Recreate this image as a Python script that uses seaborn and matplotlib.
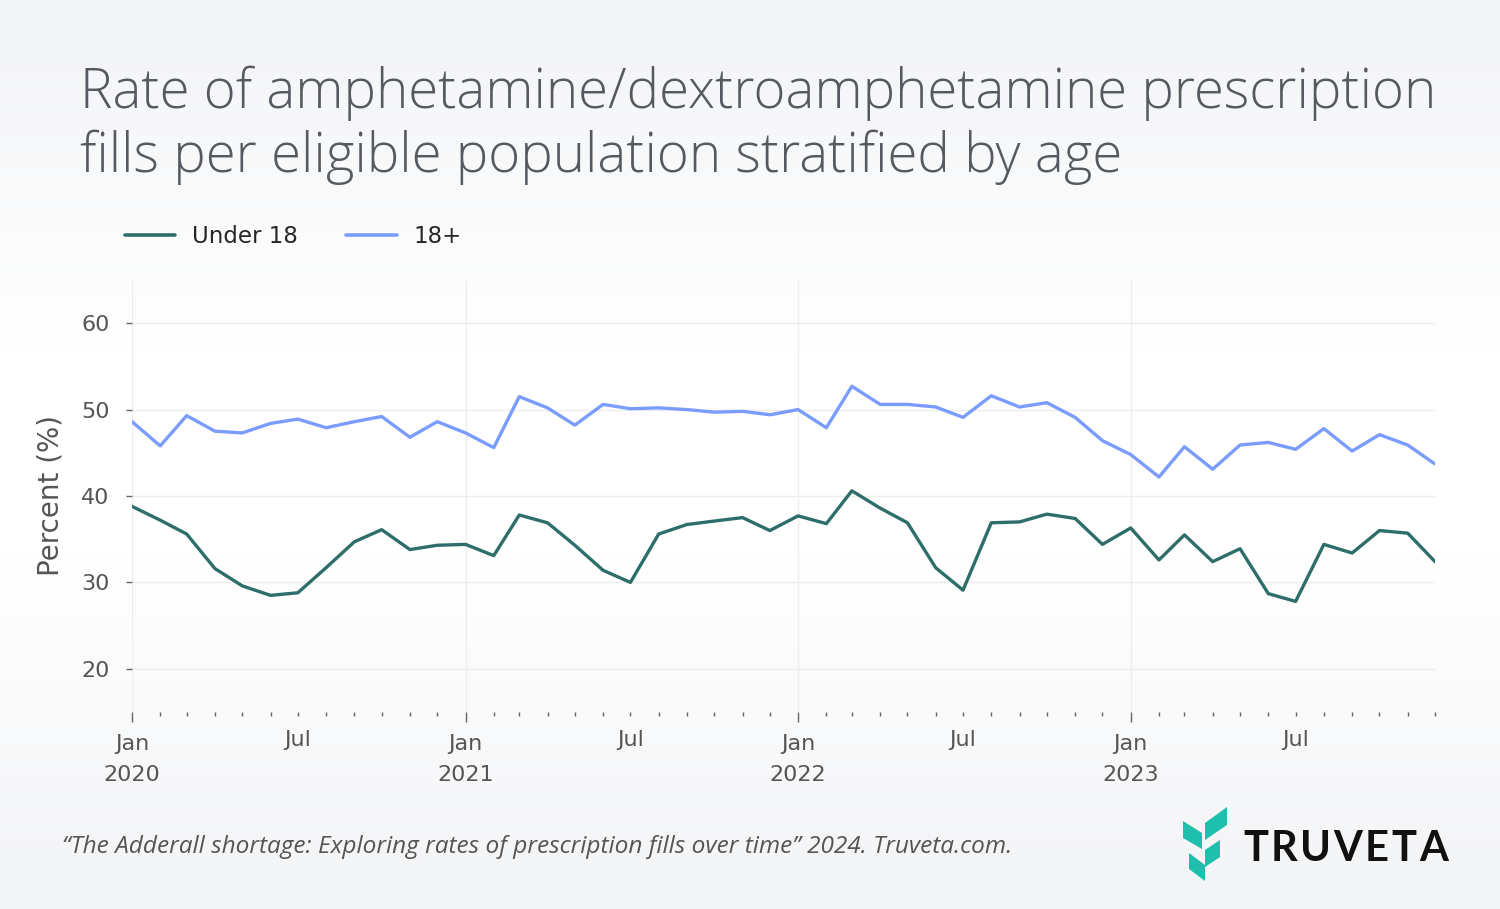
import numpy as np
import pandas as pd
import matplotlib
matplotlib.use("Agg")
import matplotlib.pyplot as plt
import matplotlib.dates as mdates
from matplotlib.patches import Polygon
from matplotlib.lines import Line2D
import seaborn as sns

# ---- data ----
months = pd.date_range("2020-01-01", "2023-12-01", freq="MS")
under18 = [38.8, 37.2, 35.6, 31.6, 29.6, 28.5, 28.8, 31.7, 34.7, 36.1, 33.8, 34.3,
           34.4, 33.1, 37.8, 36.9, 34.3, 31.4, 30.0, 35.6, 36.7, 37.1, 37.5, 36.0,
           37.7, 36.8, 40.6, 38.6, 36.9, 31.7, 29.1, 36.9, 37.0, 37.9, 37.4, 34.4,
           36.3, 32.6, 35.5, 32.4, 33.9, 28.7, 27.8, 34.4, 33.4, 36.0, 35.7, 32.4]
adult = [48.6, 45.8, 49.3, 47.5, 47.3, 48.4, 48.9, 47.9, 48.6, 49.2, 46.8, 48.6,
         47.3, 45.6, 51.5, 50.2, 48.2, 50.6, 50.1, 50.2, 50.0, 49.7, 49.8, 49.4,
         50.0, 47.9, 52.7, 50.6, 50.6, 50.3, 49.1, 51.6, 50.3, 50.8, 49.1, 46.4,
         44.8, 42.2, 45.7, 43.1, 45.9, 46.2, 45.4, 47.8, 45.2, 47.1, 45.9, 43.7]
series_names = ["Under 18", "18+"]
colors = ["#2e6e6a", "#7b9cff"]
yticks = [20, 30, 40, 50, 60]

df = pd.DataFrame({
    "month": list(months) * 2,
    "value": under18 + adult,
    "group": [series_names[0]] * len(months) + [series_names[1]] * len(months),
})

sns.set_theme(style="white")
plt.rcParams["font.family"] = ["DejaVu Sans"]

fig = plt.figure(figsize=(15, 9.09), dpi=100)

# background gradient
bg = fig.add_axes([0, 0, 1, 1], zorder=-10)
grad = np.concatenate([np.linspace(0, 1, 40), np.ones(20), np.linspace(1, 0, 40)])
bg.imshow(grad[:, None], aspect="auto", extent=[0, 1, 0, 1],
          cmap=matplotlib.colors.LinearSegmentedColormap.from_list("g", ["#f3f4f6", "#ffffff"]))
bg.set_axis_off()

ax = fig.add_axes([0.088, 0.2167, 0.8687, 0.4753])
ax.set_facecolor("none")
sns.lineplot(data=df, x="month", y="value", hue="group", palette=colors,
             hue_order=series_names, linewidth=2.4, ax=ax, legend=False)

ax.set_xlim(months[0], months[-1])
ax.set_ylim(15, 65)
ax.set_yticks(yticks)
for s in ax.spines.values():
    s.set_visible(False)

ax.grid(True, axis="y", color="#eeeeee", linewidth=1)
ax.xaxis.set_major_locator(mdates.YearLocator(month=1))
ax.xaxis.set_minor_locator(mdates.MonthLocator())
ax.xaxis.set_major_formatter(mdates.DateFormatter("%b\n%Y"))
ax.xaxis.set_minor_formatter(plt.FuncFormatter(
    lambda v, p: "Jul" if mdates.num2date(v).month == 7 else ""))
ax.grid(True, axis="x", which="major", color="#eeeeee", linewidth=1)

ax.tick_params(axis="x", which="major", length=7, width=1, color="#666666",
               pad=9, labelsize=16, labelcolor="#555555", bottom=True)
ax.tick_params(axis="x", which="minor", length=3, width=1, color="#666666",
               pad=10, labelsize=16, labelcolor="#555555", bottom=True)
ax.tick_params(axis="y", length=4, width=1, color="#666666", pad=12,
               labelsize=16, labelcolor="#555555", left=True)
for lbl in ax.get_xticklabels():
    lbl.set_linespacing(1.65)

ax.set_xlabel("")
ax.set_ylabel("Percent (%)", fontsize=20, color="#555555", labelpad=12)

# title
fig.text(0.0533, 0.928, "Rate of amphetamine/dextroamphetamine prescription\n"
         "fills per eligible population stratified by age",
         fontsize=39.3, fontweight="light", family="Open Sans", color="#555a60",
         va="top", ha="left", linespacing=1.2)

# legend
handles = [Line2D([0], [0], color=c, lw=2.6) for c in colors]
fig.legend(handles, series_names, loc="center left", bbox_to_anchor=(0.0693, 0.740),
           ncol=2, frameon=False, handlelength=2.2, handletextpad=0.75,
           columnspacing=2.1, prop={"family": "DejaVu Sans", "size": 16.5})

# caption
fig.text(0.041, 0.068, "\u201cThe Adderall shortage: Exploring rates of prescription fills over time\u201d 2024. Truveta.com.",
         fontsize=17.6, style="italic", family="Open Sans", color="#555555",
         ha="left", va="center")

# logo
W, H = 1500, 909
def P(pts):
    return [(x / W, 1 - y / H) for x, y in pts]
teal = "#1fbfad"
for pts in [
    [(1183, 821), (1202, 833), (1202, 849), (1183, 838)],
    [(1205, 823), (1227, 807), (1227, 825), (1205, 840)],
    [(1205, 850), (1220, 840), (1220, 857), (1205, 867)],
    [(1189, 853), (1205, 865), (1205, 881), (1189, 869)],
]:
    fig.patches.append(Polygon(P(pts), closed=True, transform=fig.transFigure,
                               facecolor=teal, edgecolor="none"))

# letter-spaced wordmark
word = "TRUVETA"
x0, x1, yb = 1243, 1448, 861
renderer = fig.canvas.get_renderer()
widths = []
for ch in word:
    t = fig.text(0, 0, ch, fontsize=30, fontweight="bold", family="Lato")
    widths.append(t.get_window_extent(renderer).width)
    t.remove()
gap = ((x1 - x0) - sum(widths)) / (len(word) - 1)
x = x0
for ch, w in zip(word, widths):
    fig.text(x / W, 1 - yb / H, ch, fontsize=30, fontweight="bold", family="Lato",
             color="#111111", ha="left", va="baseline")
    x += w + gap

fig.savefig("out.png", dpi=100)
